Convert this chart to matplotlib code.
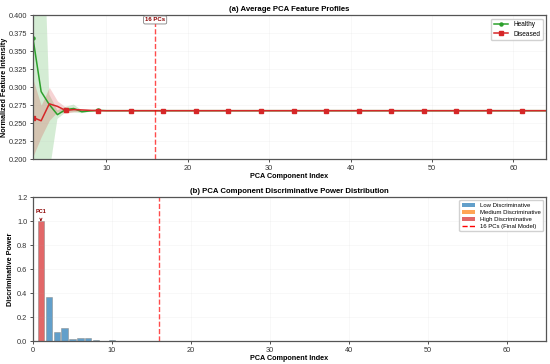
import matplotlib.pyplot as plt
from matplotlib.patches import Patch
from matplotlib.lines import Line2D

plt.rcParams['font.family'] = ['Liberation Sans', 'DejaVu Sans']

N_PCS = 64
N_SELECTED = 16
PC_INDEX = list(range(1, N_PCS + 1))

# (a) average profiles
HEALTHY_MEAN = [0.368, 0.294, 0.276, 0.262, 0.269, 0.2705, 0.266, 0.2672, 0.268] + [0.2675] * 55
HEALTHY_LO = [0.15, 0.02, 0.18, 0.256, 0.265, 0.265, 0.264, 0.266, 0.267] + [0.2672] * 55
HEALTHY_HI = [0.60, 0.62, 0.29, 0.268, 0.273, 0.276, 0.268, 0.2685, 0.269] + [0.2678] * 55
DISEASED_MEAN = [0.258, 0.2535, 0.277, 0.2735, 0.2678, 0.269, 0.2685, 0.268, 0.2675] + [0.2675] * 55
DISEASED_LO = [0.204, 0.231, 0.254, 0.266, 0.264, 0.266, 0.267, 0.267, 0.267] + [0.2672] * 55
DISEASED_HI = [0.311, 0.275, 0.300, 0.281, 0.2725, 0.272, 0.270, 0.269, 0.268] + [0.2678] * 55

# (b) discriminative power per component
DISC_POWER = [1.0, 0.367, 0.080, 0.114, 0.017, 0.025, 0.026, 0.009, 0.003, 0.010,
              0.002, 0.003, 0.001, 0.005, 0.003, 0.001] + [0.0] * 48

LOW_COL = '#1f77b4'
MED_COL = '#ff7f0e'
HIGH_COL = '#d62728'


def bar_colour(v):
    if v > 0.7:
        return HIGH_COL
    if v > 0.4:
        return MED_COL
    return LOW_COL


def style_axes(ax):
    for s in ax.spines.values():
        s.set_color('#555555')
        s.set_linewidth(0.9)
    ax.tick_params(labelsize=5.3, length=2.5, width=0.6, colors='#333333', pad=1.5)
    ax.grid(True, alpha=0.15, linewidth=0.4)


def main():
    fig, (ax1, ax2) = plt.subplots(2, 1, figsize=(5.5, 3.64), dpi=100)
    fig.subplots_adjust(left=0.06, right=0.9927, top=0.958, bottom=0.0624, hspace=0.264)

    # (a)
    ax1.fill_between(PC_INDEX, HEALTHY_LO, HEALTHY_HI, color='#2ca02c', alpha=0.2, linewidth=0)
    ax1.fill_between(PC_INDEX, DISEASED_LO, DISEASED_HI, color='#d62728', alpha=0.2, linewidth=0)
    ax1.plot(PC_INDEX, HEALTHY_MEAN, color='#2ca02c', linewidth=1.1, marker='o', markersize=2.2,
             markevery=4, label='Healthy')
    ax1.plot(PC_INDEX, DISEASED_MEAN, color='#d62728', linewidth=1.1, marker='s', markersize=2.2,
             markevery=4, label='Diseased')
    ax1.axvline(N_SELECTED, color='red', linestyle='--', linewidth=1.0, alpha=0.7)
    ax1.text(N_SELECTED, 0.3935, '16 PCs', ha='center', va='center', fontsize=4.3,
             fontweight='bold', color='darkred',
             bbox=dict(boxstyle='round,pad=0.25', fc='white', ec='gray', lw=0.6))
    ax1.set_xlim(1, 64)
    ax1.set_ylim(0.2, 0.4)
    ax1.set_title('(a) Average PCA Feature Profiles', fontsize=5.6, fontweight='bold', pad=3)
    ax1.set_xlabel('PCA Component Index', fontsize=5.2, fontweight='bold', labelpad=1)
    ax1.set_ylabel('Normalized Feature Intensity', fontsize=5.2, fontweight='bold', labelpad=1)
    style_axes(ax1)
    ax1.legend(loc='upper right', fontsize=4.7, framealpha=0.9, handlelength=2.2,
               borderpad=0.4, labelspacing=0.4)

    # (b)
    ax2.bar(PC_INDEX, DISC_POWER, width=0.8, color=[bar_colour(v) for v in DISC_POWER],
            alpha=0.7, edgecolor='#888888', linewidth=0.5)
    ax2.axvline(N_SELECTED, color='red', linestyle='--', linewidth=1.0, alpha=0.7)
    ax2.annotate('PC1', xy=(1, 1.0), xytext=(1, 1.08), ha='center', va='center', fontsize=4,
                 fontweight='bold', color='darkred',
                 arrowprops=dict(arrowstyle='->', color='darkred', lw=0.6))
    ax2.set_xlim(0, 65)
    ax2.set_ylim(0, 1.2)
    ax2.set_title('(b) PCA Component Discriminative Power Distribution', fontsize=5.6,
                  fontweight='bold', pad=3)
    ax2.set_xlabel('PCA Component Index', fontsize=5.2, fontweight='bold', labelpad=1)
    ax2.set_ylabel('Discriminative Power', fontsize=5.2, fontweight='bold', labelpad=2)
    style_axes(ax2)
    handles = [
        Patch(facecolor=LOW_COL, alpha=0.7, label='Low Discriminative'),
        Patch(facecolor=MED_COL, alpha=0.7, label='Medium Discriminative'),
        Patch(facecolor=HIGH_COL, alpha=0.7, label='High Discriminative'),
        Line2D([0], [0], color='red', linestyle='--', linewidth=1.0, label='16 PCs (Final Model)'),
    ]
    ax2.legend(handles=handles, loc='upper right', fontsize=4.3, framealpha=0.9,
               handlelength=2.2, borderpad=0.4, labelspacing=0.3)

    fig.savefig('out.png', dpi=100)


if __name__ == '__main__':
    main()
